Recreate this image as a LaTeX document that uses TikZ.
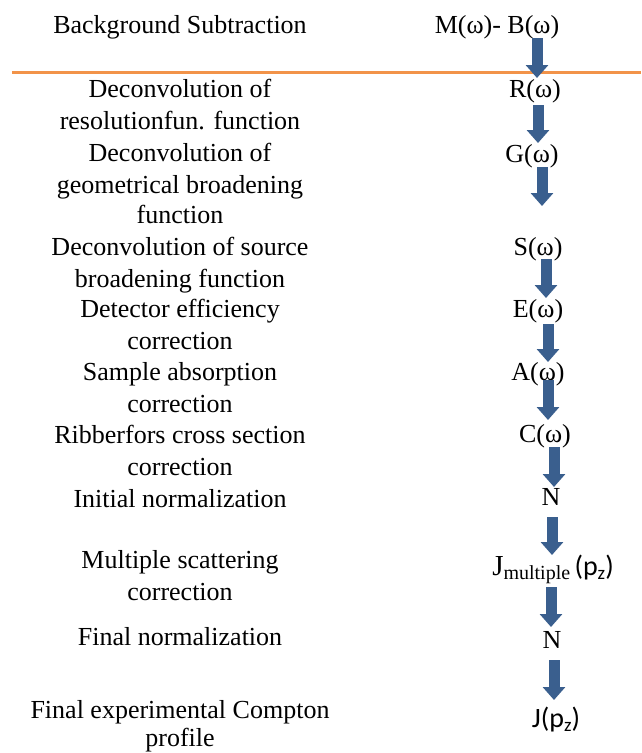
\documentclass[tikz,border=0pt]{standalone}
\usepackage{fontspec}
\setmainfont{Liberation Serif}
\newfontfamily\calib{Carlito}
\usetikzlibrary{arrows.meta}
\definecolor{arrowblue}{HTML}{3A5F8E}
\definecolor{lineorange}{HTML}{F29349}
\tikzset{
  lbl/.style={inner sep=0pt, align=center, anchor=base, font=\fontsize{26}{32}\selectfont},
  rlbl/.style={inner sep=0pt, anchor=base, font=\fontsize{26}{32}\selectfont},
  flowarrow/.style={draw=arrowblue, line width=11pt, -{Triangle[width=22pt,length=13pt]}, arrowblue}
}
\begin{document}
\begin{tikzpicture}[x=1pt,y=-1pt]
\useasboundingbox (0,0) rectangle (641,753);
\fill[white] (0,0) rectangle (641,753);
% orange separator
\coordinate (oL) at (12,72);
\coordinate (oR) at (641,72);
\draw[lineorange, line width=3pt] (oL) -- (oR);
% left column (anchor = baseline of last line)
\node[lbl] (t1) at (180,33) {Background Subtraction};
\node[lbl] (t2) at (180,129) {Deconvolution of\\resolutionfun. function};
\node[lbl] (t3) at (180,223) {Deconvolution of\\geometrical broadening\\[-2pt]function};
\node[lbl] (t4) at (180,287) {Deconvolution of source\\broadening function};
\node[lbl] (t5) at (180,349) {Detector efficiency\\correction};
\node[lbl] (t6) at (180,412) {Sample absorption\\correction};
\node[lbl] (t7) at (180,475) {Ribberfors cross section\\correction};
\node[lbl] (t8) at (180,507) {Initial normalization};
\node[lbl] (t9) at (180,600) {Multiple scattering\\correction};
\node[lbl] (t10) at (180,645) {Final normalization};
\node[lbl] (t11) at (180,746) {Final experimental Compton\\[-4pt]profile};
% right column labels
\node[rlbl] (r1) at (497,33) {M(ω)- B(ω)};
\node[rlbl] (r2) at (535,97) {R(ω)};
\node[rlbl] (r3) at (532,162) {G(ω)};
\node[rlbl] (r4) at (538,255) {S(ω)};
\node[rlbl] (r5) at (538,317) {E(ω)};
\node[rlbl] (r6) at (538,380) {A(ω)};
\node[rlbl] (r7) at (545,442) {C(ω)};
\node[rlbl] (r8) at (551,505) {N};
\node[rlbl] (r9) at (553,575) {{\fontsize{29}{29}\selectfont J}\raisebox{-0.35ex}{\fontsize{20}{20}\selectfont multiple}\,{\calib\fontsize{28}{28}\selectfont (p\raisebox{-0.3ex}{\fontsize{19}{19}\selectfont z})}};
\node[rlbl] (r10) at (552,648) {N};
\node[rlbl] (r11) at (556,727) {\calib\fontsize{28}{28}\selectfont J(p\raisebox{-0.3ex}{\fontsize{19}{19}\selectfont z})};
% arrows
\coordinate (a1s) at (537,38);  \coordinate (a1e) at (537,78);
\coordinate (a2s) at (538,105); \coordinate (a2e) at (538,143);
\coordinate (a3s) at (542,167); \coordinate (a3e) at (542,206);
\coordinate (a4s) at (546,259); \coordinate (a4e) at (546,298);
\coordinate (a5s) at (548,324); \coordinate (a5e) at (548,362);
\coordinate (a6s) at (548,380); \coordinate (a6e) at (548,420);
\coordinate (a7s) at (554,447); \coordinate (a7e) at (554,487);
\coordinate (a8s) at (552,517); \coordinate (a8e) at (552,555);
\coordinate (a9s) at (551,587); \coordinate (a9e) at (551,627);
\coordinate (a10s) at (554,660); \coordinate (a10e) at (554,700);
\foreach \i in {1,...,10} {
  \draw[flowarrow] (a\i s) -- (a\i e);
}
\end{tikzpicture}
\end{document}
